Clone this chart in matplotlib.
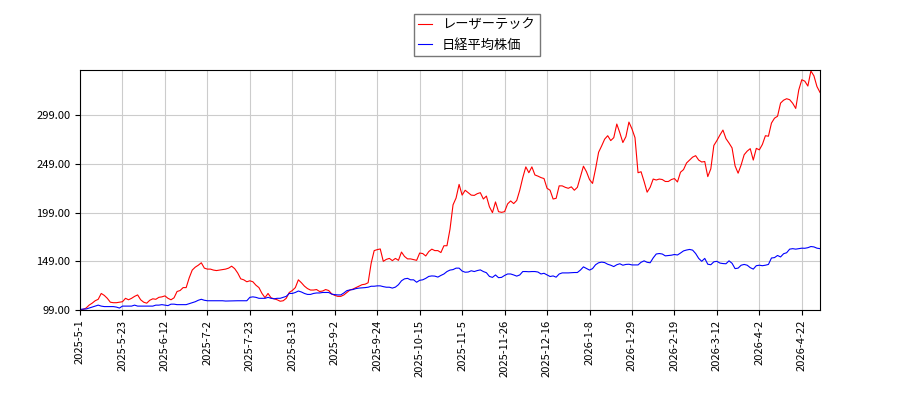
import matplotlib
matplotlib.use('Agg')
import matplotlib.pyplot as plt
import numpy as np

plt.rcParams['font.family'] = ['Noto Sans CJK JP', 'DejaVu Sans']

# normalised prices, one value per trading day (2025-5-1 .. 2026-4-30)
laser_tec = [
    99, 99.5, 101, 104, 106, 108.5, 110, 116, 114, 111,
    107, 106.5, 106.5, 107, 107.5, 111, 109.5, 111, 113, 114.5,
    109.5, 107, 106, 109, 110.5, 110, 112, 112.5, 113.5, 111,
    109.5, 111.5, 118, 119, 122, 122, 132, 140, 143, 145,
    147.5, 142, 141, 141, 140, 139.5, 140, 140.5, 141, 142,
    144, 141.5, 137, 131, 130, 128, 129, 128, 124.5, 122,
    116, 111.7, 116, 111.5, 110.5, 109.5, 108, 108.5, 111, 117,
    119, 122, 130, 127, 123.5, 121, 119.5, 119.5, 120, 118,
    118.5, 120, 119, 115.5, 114, 113, 113, 114.5, 117, 119.5,
    120.5, 122, 123.5, 125, 125.5, 127, 147, 160, 161, 161.7,
    149, 151, 152, 149.7, 152, 150, 158.5, 154, 151.5, 151.5,
    150.7, 150, 157.5, 157, 154.5, 159, 161.5, 160, 160, 158,
    165, 165, 182, 207, 214, 228, 217, 222, 219.5, 217,
    216.7, 218.5, 219.5, 213, 216, 205, 199, 210, 200, 199.3,
    200, 208, 211, 208.3, 211.5, 222, 235, 246, 240, 246,
    237.7, 236.5, 235, 234, 224, 222, 213, 213.7, 226.5, 226.5,
    225, 224, 225.5, 222, 225, 236, 246.7, 241, 233, 229,
    244, 261, 267.5, 274.5, 278, 273, 276, 290, 281, 271,
    277, 292, 285, 276, 240, 241, 231, 220, 225, 233.5,
    232.5, 233.5, 233, 231, 231, 233, 234, 230.5, 240.5, 243.2,
    250, 253, 256, 257.5, 253, 251, 251.5, 236, 244, 268,
    273, 278.7, 283.8, 275, 270.5, 265.5, 247, 239.5, 248, 258.5,
    262.2, 264.7, 253, 265, 263.5, 269, 278, 277.5, 291, 296,
    298, 311.5, 314.5, 316, 315, 311.3, 306, 325, 335.5, 334,
    329, 344.5, 339.5, 328.5, 322.5,
]

nikkei = [
    99.5, 100, 100, 101, 102, 103, 104, 103, 102.5, 102.5,
    102.5, 102.5, 102, 101, 103, 103, 103, 103, 104, 103,
    103, 103, 103, 103, 103, 104, 104, 104.5, 104, 103.5,
    105, 105, 104.5, 104.5, 104.5, 104.5, 105.5, 106.5, 107.5, 109,
    110, 109, 108.5, 108.5, 108.5, 108.5, 108.5, 108.5, 108.2, 108.3,
    108.3, 108.5, 108.5, 108.5, 108.5, 108.5, 112, 112.5, 112, 111,
    111, 111, 112, 111, 110.5, 111, 111, 112, 113, 116,
    116, 117, 118.5, 117.5, 116, 115, 115, 116, 116.5, 116.5,
    117, 117, 117, 115.3, 114.8, 114.5, 114.5, 116.5, 118.9, 119.6,
    120, 121, 121.5, 121.7, 122, 122.4, 123.4, 123.4, 123.8, 123.8,
    123, 122.4, 122.4, 121.5, 122.5, 125, 129, 131, 131.5, 130,
    130, 127.5, 129.5, 130, 131.5, 133.5, 134, 133.8, 132.8, 134.5,
    136, 138.5, 140, 140.5, 142, 142, 139, 137.8, 138, 139.3,
    138.5, 139.5, 140.2, 138.5, 137.3, 133.5, 132.5, 135, 132.2, 132.5,
    134.5, 136, 136, 135, 133.8, 135, 138.5, 138.5, 138.3, 138.5,
    138.5, 138, 136, 136.7, 135, 133.4, 134, 132.7, 136, 137.1,
    137.1, 137.1, 137.3, 137.5, 137.5, 140, 143.3, 141.6, 140, 141.5,
    145.5, 147.5, 148.2, 147.7, 146, 145, 143.6, 145.5, 146.5, 145,
    145.8, 146, 145.3, 145.3, 145.3, 148, 149.5, 148, 147.5, 152.5,
    156.5, 157, 156.5, 154.6, 155, 155.3, 156, 155.5, 157.5, 159.7,
    160.6, 161.2, 160.5, 157, 152, 149, 152, 146, 145.5, 148.5,
    149, 147.2, 146.7, 146.5, 149.5, 147, 141.5, 142, 145, 145.8,
    145, 142.5, 141, 144.5, 145, 144.5, 145, 145.8, 152.4, 152.8,
    155, 153.5, 156.8, 157.8, 161.5, 162, 161.5, 162, 162.5, 162.4,
    163, 164.2, 163.8, 162.5, 162,
]

tick_labels = [
    '2025-5-1', '2025-5-23', '2025-6-12', '2025-7-2', '2025-7-23',
    '2025-8-13', '2025-9-2', '2025-9-24', '2025-10-15', '2025-11-5',
    '2025-11-26', '2025-12-16', '2026-1-8', '2026-1-29', '2026-2-19',
    '2026-3-12', '2026-4-2', '2026-4-22',
]

x = np.arange(len(laser_tec))

fig = plt.figure(figsize=(9, 4), dpi=100)
ax = fig.add_axes([0.0889, 0.225, 0.8222, 0.6])

ax.plot(x, laser_tec, color='red', lw=0.8, label='レーザーテック')
ax.plot(x, nikkei, color='blue', lw=0.8, label='日経平均株価')

ymin = min(min(laser_tec), min(nikkei))
ymax = max(max(laser_tec), max(nikkei))
ax.set_ylim(ymin, ymax + 1)
ax.set_yticks(np.arange(ymin, ymax, 50))
ax.yaxis.set_major_formatter(matplotlib.ticker.FormatStrFormatter('%.2f'))
ax.set_xlim(0, len(x) - 1)
ax.set_xticks(np.arange(0, len(x), 14))
ax.set_xticklabels(tick_labels, rotation=90)
ax.tick_params(labelsize=8)
ax.grid(True, color='#cccccc', lw=0.8)

ax.legend(loc='lower center', bbox_to_anchor=(0.536, 1.03), fancybox=False,
          edgecolor='#555555', fontsize=9.5, handlelength=1.0,
          borderpad=0.35)

fig.savefig('out.png')
